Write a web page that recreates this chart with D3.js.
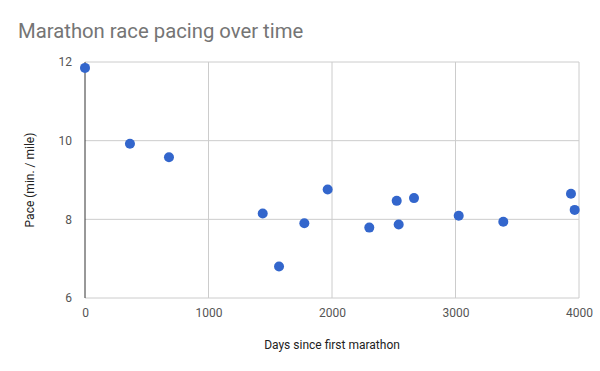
<!DOCTYPE html>
<html>
<head>
<meta charset="utf-8">
<script src="https://cdnjs.cloudflare.com/ajax/libs/d3/7.8.5/d3.min.js"></script>
<style>
  body { margin: 0; background: #fff; }
  text { font-family: Roboto, Arial, sans-serif; }
</style>
</head>
<body>
<svg id="chart" width="600" height="371"></svg>
<script>
// days since first marathon vs pace (min/mile)
var days = [0, 364, 680, 1439, 1571, 1776, 1965, 2302, 2524, 2540, 2664, 3026, 3387, 3935, 3965];
var pace = [11.85, 9.92, 9.58, 8.15, 6.8, 7.9, 8.76, 7.79, 8.47, 7.87, 8.54, 8.09, 7.94, 8.65, 8.24];
var xTicks = [0, 1000, 2000, 3000, 4000];
var yTicks = [6, 8, 10, 12];

var svg = d3.select("#chart"),
    margin = {top: 62, right: 21, bottom: 73, left: 85},
    width = +svg.attr("width") - margin.left - margin.right,
    height = +svg.attr("height") - margin.top - margin.bottom,
    g = svg.append("g").attr("transform", "translate(" + margin.left + "," + margin.top + ")");

var x = d3.scaleLinear().domain([0, 4000]).range([0, width]);
var y = d3.scaleLinear().domain([6, 12]).range([height, 0]);

svg.append("text")
    .attr("x", 18)
    .attr("y", 38)
    .attr("fill", "#757575")
    .attr("font-size", 20.3)
    .text("Marathon race pacing over time");

// gridlines
g.append("g")
  .selectAll("line")
  .data(yTicks)
  .join("line")
    .attr("x1", 0).attr("x2", width)
    .attr("y1", function(d) { return y(d); })
    .attr("y2", function(d) { return y(d); })
    .attr("stroke", "#cccccc");

g.append("g")
  .selectAll("line")
  .data(xTicks.slice(1))
  .join("line")
    .attr("x1", function(d) { return x(d); })
    .attr("x2", function(d) { return x(d); })
    .attr("y1", 0).attr("y2", height)
    .attr("stroke", "#cccccc");

// baseline at x = 0
g.append("line")
    .attr("x1", x(0)).attr("x2", x(0))
    .attr("y1", 0).attr("y2", height)
    .attr("stroke", "#333333");

var xAxis = g.append("g")
    .attr("transform", "translate(0," + height + ")")
    .call(d3.axisBottom(x).tickValues(xTicks).tickFormat(d3.format("d")).tickSize(0).tickPadding(10));
xAxis.select(".domain").remove();
xAxis.selectAll("text").attr("fill", "#555").attr("font-size", 12).attr("font-family", "Roboto, Arial, sans-serif");

var yAxis = g.append("g")
    .call(d3.axisLeft(y).tickValues(yTicks).tickFormat(d3.format("d")).tickSize(0).tickPadding(13));
yAxis.select(".domain").remove();
yAxis.selectAll("text").attr("fill", "#555").attr("font-size", 12).attr("font-family", "Roboto, Arial, sans-serif");

svg.append("text")
    .attr("x", margin.left + width / 2)
    .attr("y", 349)
    .attr("text-anchor", "middle")
    .attr("fill", "#222")
    .attr("font-size", 12)
    .text("Days since first marathon");

svg.append("text")
    .attr("transform", "translate(34," + (margin.top + height / 2) + ") rotate(-90)")
    .attr("text-anchor", "middle")
    .attr("fill", "#222")
    .attr("font-size", 12)
    .text("Pace (min. / mile)");

g.append("g")
  .selectAll("circle")
  .data(days)
  .join("circle")
    .attr("cx", function(d) { return x(d); })
    .attr("cy", function(d, i) { return y(pace[i]); })
    .attr("r", 5)
    .attr("fill", "#3366cc");
</script>
</body>
</html>
